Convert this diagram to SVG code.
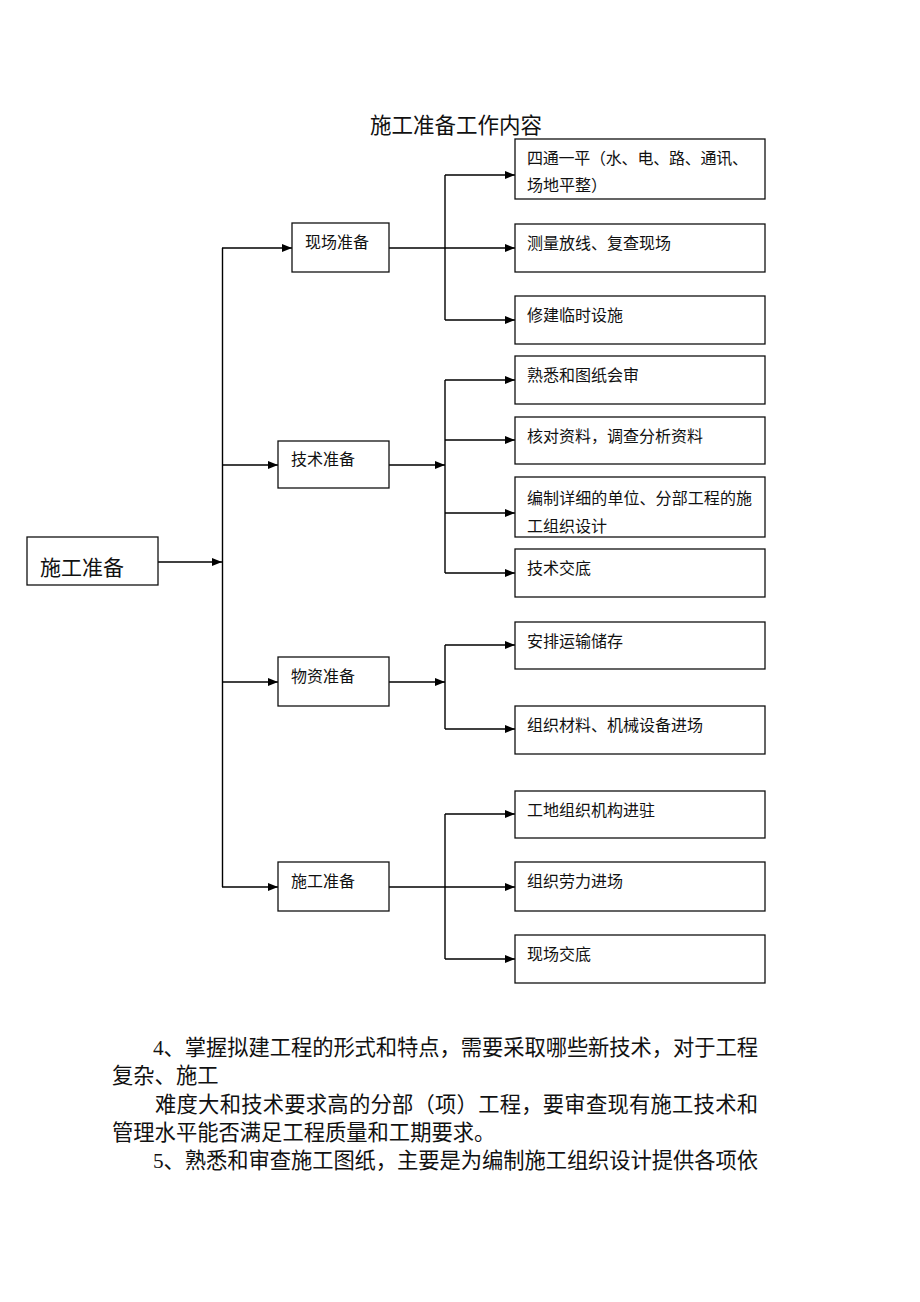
<svg xmlns="http://www.w3.org/2000/svg" width="920" height="1302" viewBox="0 0 920 1302">
<style>
.bg{fill:#ffffff}
.box{fill:#ffffff;stroke:#111;stroke-width:1.3}
.ln{fill:none;stroke:#000;stroke-width:1.4}
.arr{fill:none;stroke:#000;stroke-width:1.4;marker-end:url(#ah)}
.t{font-family:'Liberation Serif','Noto Sans CJK SC',serif;fill:#111}
.s{font-size:16px}
.m{font-size:21px}
.b{font-size:21.3px}
</style>
<defs>
<marker id="ah" markerUnits="userSpaceOnUse" markerWidth="10" markerHeight="8" refX="10" refY="4" orient="auto">
<path d="M0,0 L10,4 L0,8 z" fill="#000"/>
</marker>
</defs>
<rect class="bg" x="0" y="0" width="920" height="1302"/>
<text class="t" x="370" y="133" font-size="21.5" textLength="172">施工准备工作内容</text>

<g id="connectors">
<line class="arr" x1="153" y1="562" x2="222" y2="562"/>
<line class="ln" x1="222.5" y1="248" x2="222.5" y2="887"/>
<line class="arr" x1="222" y1="248" x2="292" y2="248"/>
<line class="arr" x1="222" y1="465" x2="278" y2="465"/>
<line class="arr" x1="222" y1="682" x2="278" y2="682"/>
<line class="arr" x1="222" y1="887" x2="278" y2="887"/>

<line class="arr" x1="389" y1="248" x2="515" y2="248"/>
<line class="ln" x1="445" y1="175" x2="445" y2="320"/>
<line class="arr" x1="445" y1="175" x2="515" y2="175"/>
<line class="arr" x1="445" y1="320" x2="515" y2="320"/>

<line class="arr" x1="389" y1="465" x2="445" y2="465"/>
<line class="ln" x1="445" y1="380" x2="445" y2="573"/>
<line class="arr" x1="445" y1="380" x2="515" y2="380"/>
<line class="arr" x1="445" y1="440" x2="515" y2="440"/>
<line class="arr" x1="445" y1="513" x2="515" y2="513"/>
<line class="arr" x1="445" y1="573" x2="515" y2="573"/>

<line class="arr" x1="389" y1="682" x2="445" y2="682"/>
<line class="ln" x1="445" y1="645" x2="445" y2="729"/>
<line class="arr" x1="445" y1="645" x2="515" y2="645"/>
<line class="arr" x1="445" y1="729" x2="515" y2="729"/>

<line class="arr" x1="389" y1="887" x2="515" y2="887"/>
<line class="ln" x1="445" y1="814" x2="445" y2="959"/>
<line class="arr" x1="445" y1="814" x2="515" y2="814"/>
<line class="arr" x1="445" y1="959" x2="515" y2="959"/>
</g>

<g id="root">
<rect class="box" x="27" y="537" width="131" height="48"/>
<text class="t m" x="40" y="575">施工准备</text>
</g>

<g id="site">
<rect class="box" x="292" y="223" width="97" height="49"/>
<text class="t s" x="305" y="248">现场准备</text>
</g>
<g id="tech">
<rect class="box" x="278" y="441" width="111" height="47"/>
<text class="t s" x="291" y="465">技术准备</text>
</g>
<g id="material">
<rect class="box" x="278" y="657" width="111" height="49"/>
<text class="t s" x="291" y="682">物资准备</text>
</g>
<g id="construct">
<rect class="box" x="278" y="862" width="111" height="49"/>
<text class="t s" x="291" y="887">施工准备</text>
</g>

<g id="r1">
<rect class="box" x="515" y="139" width="250" height="60"/>
<text class="t s" x="527" y="164" textLength="221">四通一平（水、电、路、通讯、</text>
<text class="t s" x="527" y="191">场地平整）</text>
</g>
<g id="r2">
<rect class="box" x="515" y="224" width="250" height="48"/>
<text class="t s" x="527" y="249">测量放线、复查现场</text>
</g>
<g id="r3">
<rect class="box" x="515" y="296" width="250" height="48"/>
<text class="t s" x="527" y="321">修建临时设施</text>
</g>
<g id="r4">
<rect class="box" x="515" y="356" width="250" height="48"/>
<text class="t s" x="527" y="381">熟悉和图纸会审</text>
</g>
<g id="r5">
<rect class="box" x="515" y="417" width="250" height="47"/>
<text class="t s" x="527" y="442">核对资料，调查分析资料</text>
</g>
<g id="r6">
<rect class="box" x="515" y="477" width="250" height="60"/>
<text class="t s" x="527" y="504" textLength="225">编制详细的单位、分部工程的施</text>
<text class="t s" x="527" y="532">工组织设计</text>
</g>
<g id="r7">
<rect class="box" x="515" y="549" width="250" height="48"/>
<text class="t s" x="527" y="574">技术交底</text>
</g>
<g id="r8">
<rect class="box" x="515" y="622" width="250" height="47"/>
<text class="t s" x="527" y="647">安排运输储存</text>
</g>
<g id="r9">
<rect class="box" x="515" y="706" width="250" height="48"/>
<text class="t s" x="527" y="731">组织材料、机械设备进场</text>
</g>
<g id="r10">
<rect class="box" x="515" y="791" width="250" height="47"/>
<text class="t s" x="527" y="816">工地组织机构进驻</text>
</g>
<g id="r11">
<rect class="box" x="515" y="862" width="250" height="49"/>
<text class="t s" x="527" y="887">组织劳力进场</text>
</g>
<g id="r12">
<rect class="box" x="515" y="935" width="250" height="48"/>
<text class="t s" x="527" y="960">现场交底</text>
</g>

<g id="body">
<text class="t b" x="153" y="1055" textLength="605">4、掌握拟建工程的形式和特点，需要采取哪些新技术，对于工程</text>
<text class="t b" x="112" y="1083">复杂、施工</text>
<text class="t b" x="155" y="1112" textLength="603">难度大和技术要求高的分部（项）工程，要审查现有施工技术和</text>
<text class="t b" x="112" y="1140">管理水平能否满足工程质量和工期要求。</text>
<text class="t b" x="153" y="1168" textLength="605">5、熟悉和审查施工图纸，主要是为编制施工组织设计提供各项依</text>
</g>
</svg>
